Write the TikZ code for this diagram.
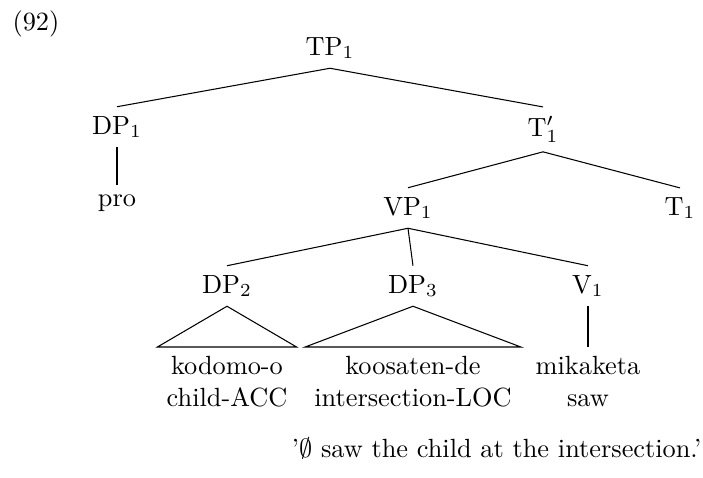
\documentclass[tikz,border=0pt]{standalone}
\usepackage{amsmath,amssymb}
\usepackage{tikz}
\usetikzlibrary{positioning}

\begin{document}
\begin{tikzpicture}[x=0.38pt,y=-0.38pt,every node/.style={align=center},cat/.style={anchor=base},leaf/.style={anchor=north}]
\useasboundingbox (0,0) rectangle (703,477);
\node[anchor=base west,inner sep=0pt] (exno) at (12,30) {(92)};
\node[cat] (tp) at (330,55) {TP$_1$};
\node[cat] (dpa) at (117,134) {DP$_1$};
\node[cat] (pro) at (117,206) {pro};
\node[cat] (tbar) at (543,136) {T$'_1$};
\node[cat] (vp) at (408,215) {VP$_1$};
\node[cat] (t) at (680,215) {T$_1$};
\node[cat] (dpb) at (227,293) {DP$_2$};
\node[cat] (dpc) at (413,293) {DP$_3$};
\node[cat] (v) at (588,293) {V$_1$};
\node[leaf] (kodomo) at (227,347) {kodomo-o\\child-ACC};
\node[leaf] (koosaten) at (413,347) {koosaten-de\\intersection-LOC};
\node[leaf] (mikaketa) at (588,347) {mikaketa\\saw};
\node[anchor=base east,inner sep=0pt] (gloss) at (702,457) {'$\emptyset$ saw the child at the intersection.'};
\draw (tp.south)--(dpa.north);
\draw (tp.south)--(tbar.north);
\draw (dpa.south)--(pro.north);
\draw (tbar.south)--(vp.north);
\draw (tbar.south)--(t.north);
\draw (vp.south)--(dpb.north);
\draw (vp.south)--(dpc.north);
\draw (vp.south)--(v.north);
\draw (dpb.south)--(kodomo.north west)--(kodomo.north east)--cycle;
\draw (dpc.south)--(koosaten.north west)--(koosaten.north east)--cycle;
\draw (v.south)--(mikaketa.north);
\end{tikzpicture}
\end{document}
